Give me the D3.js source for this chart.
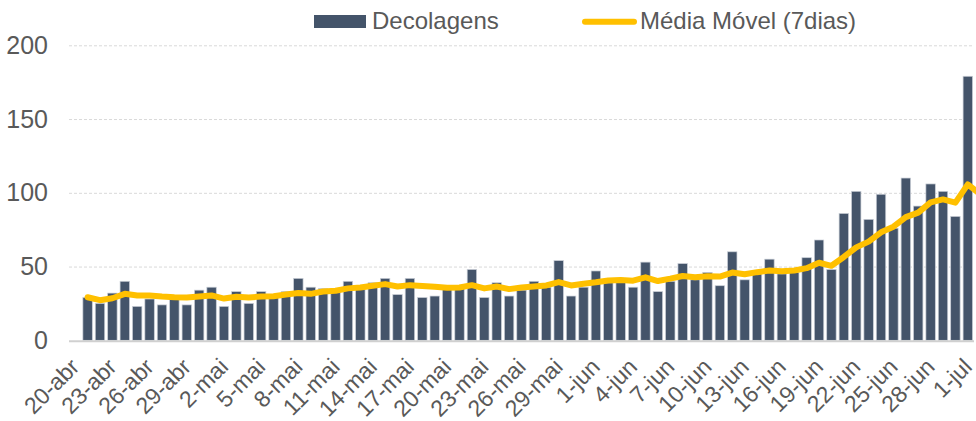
<!DOCTYPE html>
<html>
<head>
<meta charset="utf-8">
<script src="https://cdn.jsdelivr.net/npm/d3@7"></script>
<style>
  body { margin: 0; background: #fff; }
  text { font-family: "Liberation Sans", Arial, sans-serif; fill: #595959; }
</style>
</head>
<body>
<svg id="chart" width="976" height="421"></svg>
<script>
// dias: 20-abr .. 2-jul
var dates = ['20-abr','21-abr','22-abr','23-abr','24-abr','25-abr','26-abr','27-abr','28-abr','29-abr','30-abr',
  '1-mai','2-mai','3-mai','4-mai','5-mai','6-mai','7-mai','8-mai','9-mai','10-mai','11-mai','12-mai','13-mai','14-mai','15-mai',
  '16-mai','17-mai','18-mai','19-mai','20-mai','21-mai','22-mai','23-mai','24-mai','25-mai','26-mai','27-mai','28-mai','29-mai','30-mai','31-mai',
  '1-jun','2-jun','3-jun','4-jun','5-jun','6-jun','7-jun','8-jun','9-jun','10-jun','11-jun','12-jun','13-jun','14-jun','15-jun',
  '16-jun','17-jun','18-jun','19-jun','20-jun','21-jun','22-jun','23-jun','24-jun','25-jun','26-jun','27-jun','28-jun','29-jun','30-jun',
  '1-jul','2-jul'];

// decolagens por dia (null = sem barra)
var decolagens = [null,
  29,25,32,40,23,28,24,28,24,34,
  36,23,33,25,33,30,33,42,36,35,
  33,40,35,39,42,31,42,29,30,35,
  36,48,29,39,30,34,40,36,54,30,
  36,47,39,40,36,53,33,40,52,41,
  46,37,60,41,45,55,45,46,56,68,
  48,86,101,82,99,76,110,91,106,101,
  84,179, null];

// media movel 7 dias
var media = [null,
  29.2,27.2,28.5,31.5,30.4,30.4,29.7,29.2,29.0,29.7,
  30.4,28.3,29.5,29.0,29.7,29.9,31.0,32.0,31.5,33.1,
  33.6,35.2,35.8,37.0,38.1,36.5,37.4,36.8,36.3,35.6,
  35.8,37.4,35.2,36.5,34.7,35.8,36.5,37.2,39.5,37.2,
  38.4,39.3,40.6,40.9,40.4,42.7,40.2,41.8,43.6,42.7,
  43.4,43.2,45.9,44.8,46.2,47.3,46.8,47.3,48.9,52.6,
  50.5,56.5,63.0,66.9,73.2,77.0,83.5,86.6,93.5,95.5,
  93.3,105.7,99.0];

var yTicks = [0, 50, 100, 150, 200];
var tickLabels = ['20-abr','23-abr','26-abr','29-abr','2-mai','5-mai','8-mai','11-mai','14-mai','17-mai',
  '20-mai','23-mai','26-mai','29-mai','1-jun','4-jun','7-jun','10-jun','13-jun','16-jun',
  '19-jun','22-jun','25-jun','28-jun','1-jul'];

var svg = d3.select('#chart');
var pLeft = 69, pRight = 974, pTop = 45.3, pBottom = 340.3;

// eixo x por indice do dia, 73 categorias visiveis
var x = d3.scaleLinear().domain([-0.5, 72.5]).range([pLeft, pRight]);
var y = d3.scaleLinear().domain([0, 200]).range([pBottom, pTop]);
var bw = (x(1) - x(0)) * 0.76;

// grade + rotulos do eixo y
var gy = svg.append('g')
  .attr('transform', 'translate(' + pLeft + ',0)')
  .call(d3.axisLeft(y).tickValues(yTicks).tickSize(-(pRight - pLeft)).tickPadding(21));
gy.select('.domain').remove();
gy.selectAll('line')
  .attr('stroke', '#d9d9d9')
  .attr('stroke-dasharray', '3,2')
  .filter(function(d) { return d === 0; }).remove();
gy.selectAll('text').attr('font-size', 25).attr('fill', '#595959');

// barras
var data = decolagens.map(function(v, i) { return {i: i, v: v}; })
  .filter(function(d) { return d.v !== null; });
svg.append('g').selectAll('rect')
  .data(data)
  .enter().append('rect')
  .attr('x', function(d) { return x(d.i) - bw / 2; })
  .attr('y', function(d) { return y(d.v); })
  .attr('width', bw)
  .attr('height', function(d) { return y(0) - y(d.v); })
  .attr('fill', '#44546a')
  .attr('stroke', '#c9ced6')
  .attr('stroke-width', 0.7);

// linha de base
svg.append('line')
  .attr('x1', pLeft).attr('x2', pRight)
  .attr('y1', y(0) + 1).attr('y2', y(0) + 1)
  .attr('stroke', '#d0d0d0').attr('stroke-width', 2);

// media movel
var line = d3.line()
  .defined(function(d) { return d !== null; })
  .x(function(d, i) { return x(i); })
  .y(function(d) { return y(d); });
svg.append('path')
  .datum(media)
  .attr('d', line)
  .attr('fill', 'none')
  .attr('stroke', '#ffc000')
  .attr('stroke-width', 6)
  .attr('stroke-linejoin', 'round')
  .attr('stroke-linecap', 'round');

// eixo x
var gx = svg.append('g')
  .attr('transform', 'translate(0,' + pBottom + ')')
  .call(d3.axisBottom(x)
    .tickValues(tickLabels.map(function(t) { return dates.indexOf(t); }))
    .tickSize(0)
    .tickFormat(function(i) { return dates[i]; }));
gx.select('.domain').remove();
gx.selectAll('text')
  .attr('font-size', 23)
  .attr('fill', '#595959')
  .attr('text-anchor', 'end')
  .attr('x', -16.2).attr('y', 23.3).attr('dy', 0)
  .attr('transform', 'rotate(-45)');

// legenda
var lg = svg.append('g');
lg.append('rect').attr('x', 314).attr('y', 15).attr('width', 52).attr('height', 13).attr('fill', '#44546a');
lg.append('text').attr('x', 372).attr('y', 29).attr('font-size', 24).text('Decolagens');
lg.append('line').attr('x1', 585).attr('x2', 634).attr('y1', 21.7).attr('y2', 21.7)
  .attr('stroke', '#ffc000').attr('stroke-width', 6).attr('stroke-linecap', 'round');
lg.append('text').attr('x', 640).attr('y', 29).attr('font-size', 24).text('Média Móvel (7dias)');
</script>
</body>
</html>
